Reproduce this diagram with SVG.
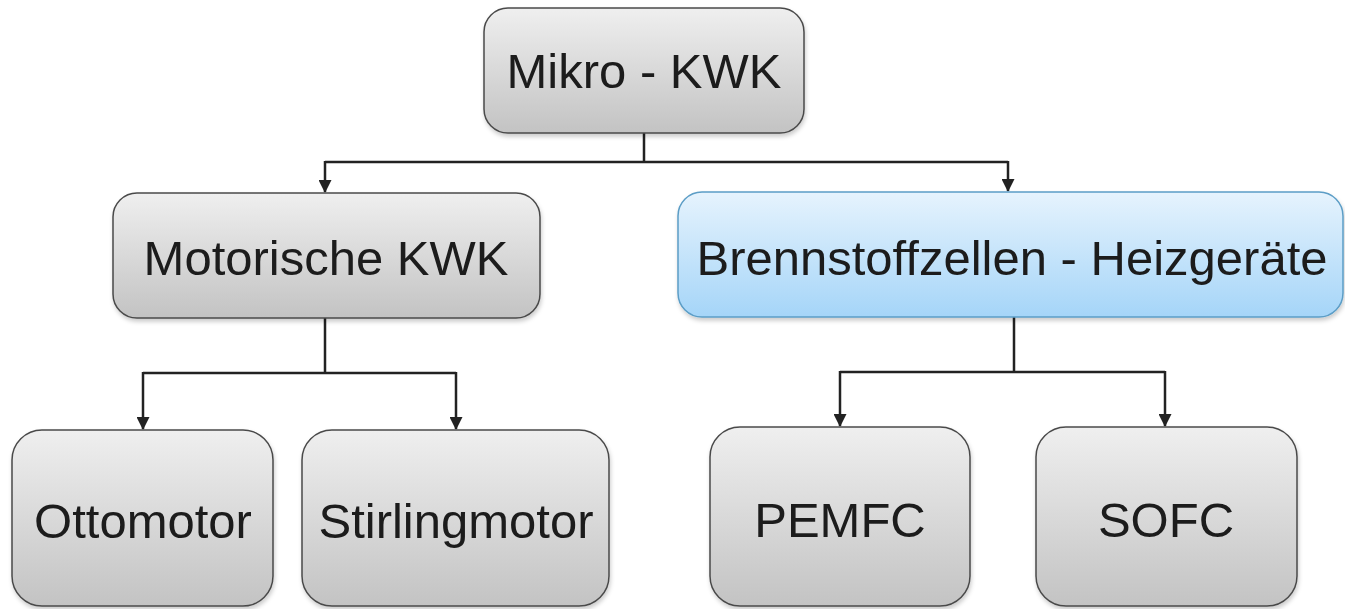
<svg xmlns="http://www.w3.org/2000/svg" width="1345" height="609" viewBox="0 0 1345 609">
<style>
.grey{fill:url(#gg);stroke:#4a4a4a;stroke-width:1.5}
.blue{fill:url(#bg);stroke:#5b9dc6;stroke-width:1.5}
.lbl{font-family:"Liberation Sans",Arial,sans-serif;font-size:49px;fill:#1a1a1a;text-anchor:middle}
.con{fill:none;stroke:#222;stroke-width:2.5}
</style>
<defs>
<linearGradient id="gg" x1="0" y1="0" x2="0" y2="1"><stop offset="0" stop-color="#efefef"/><stop offset="1" stop-color="#c3c3c3"/></linearGradient>
<linearGradient id="bg" x1="0" y1="0" x2="0" y2="1"><stop offset="0" stop-color="#e6f3fd"/><stop offset="1" stop-color="#a5d5f8"/></linearGradient>
<marker id="ah" markerWidth="13" markerHeight="13" refX="12" refY="6.5" orient="auto" markerUnits="userSpaceOnUse" viewBox="0 0 13 13"><path d="M0,0 L13,6.5 L0,13 Z" fill="#222"/></marker>
<filter id="sh" x="-5%" y="-5%" width="110%" height="115%"><feDropShadow dx="1" dy="3" stdDeviation="2" flood-color="#000" flood-opacity="0.2"/></filter>
</defs>
<g id="connectors">
<path class="con" d="M644,133 V162 M325,162 H1008" />
<path class="con" d="M325,161 V192" marker-end="url(#ah)"/>
<path class="con" d="M1008,161 V191" marker-end="url(#ah)"/>
<path class="con" d="M325,318 V373 M143,373 H456"/>
<path class="con" d="M143,372 V429" marker-end="url(#ah)"/>
<path class="con" d="M456,372 V429" marker-end="url(#ah)"/>
<path class="con" d="M1014,317 V372 M840,372 H1165"/>
<path class="con" d="M840,371 V426" marker-end="url(#ah)"/>
<path class="con" d="M1165,371 V426" marker-end="url(#ah)"/>
</g>
<g id="n-mikro" filter="url(#sh)"><rect class="grey" x="484" y="8" width="320" height="125" rx="24"/><text class="lbl" x="644" y="88">Mikro - KWK</text></g>
<g id="n-motor" filter="url(#sh)"><rect class="grey" x="113" y="193" width="427" height="125" rx="24"/><text class="lbl" x="326" y="275">Motorische KWK</text></g>
<g id="n-bz" filter="url(#sh)"><rect class="blue" x="678" y="192" width="665" height="125" rx="24"/><text class="lbl" x="1012" y="275">Brennstoffzellen - Heizgeräte</text></g>
<g id="n-otto" filter="url(#sh)"><rect class="grey" x="12" y="430" width="261" height="176" rx="30"/><text class="lbl" x="143" y="538">Ottomotor</text></g>
<g id="n-stirling" filter="url(#sh)"><rect class="grey" x="302" y="430" width="307" height="176" rx="30"/><text class="lbl" x="456" y="538">Stirlingmotor</text></g>
<g id="n-pemfc" filter="url(#sh)"><rect class="grey" x="710" y="427" width="260" height="179" rx="30"/><text class="lbl" x="840" y="537">PEMFC</text></g>
<g id="n-sofc" filter="url(#sh)"><rect class="grey" x="1036" y="427" width="261" height="179" rx="30"/><text class="lbl" x="1166" y="537">SOFC</text></g>
</svg>
